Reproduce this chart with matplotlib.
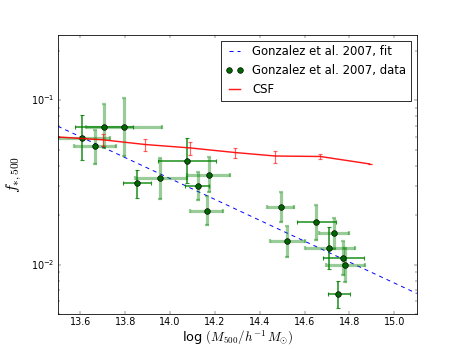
import matplotlib
matplotlib.use("Agg")
import matplotlib.pyplot as plt
import numpy as np

plt.style.use('classic')

# Gonzalez et al. 2007 fit line (endpoints)
fit_x = [13.5, 15.1]
fit_y = [0.0695, 0.00668]

# Gonzalez et al. 2007 data
g_x = [13.606, 13.704, 13.796, 13.665, 13.855, 13.954, 14.074, 14.175, 14.124,
       14.163, 14.493, 14.653, 14.523, 14.733, 14.711, 14.772, 14.782, 14.751]
g_y = [0.0593, 0.0692, 0.0692, 0.0525, 0.0312, 0.0336, 0.0430, 0.0353, 0.0303,
       0.0212, 0.0224, 0.0181, 0.0140, 0.0155, 0.0126, 0.0109, 0.00997, 0.00659]
g_xlo = [13.502, 13.578, 13.627, 13.570, 13.792, 13.844, 13.947, 14.074, 14.067,
         14.089, 14.434, 14.568, 14.444, 14.664, 14.600, 14.681, 14.696, 14.704]
g_xhi = [13.733, 13.836, 13.963, 13.760, 13.916, 14.074, 14.204, 14.268, 14.173,
         14.237, 14.552, 14.739, 14.601, 14.800, 14.827, 14.864, 14.868, 14.801]
g_ylo = [0.0432, 0.0511, 0.0458, 0.0412, 0.0256, 0.0251, 0.0313, 0.0275, 0.0249,
         0.0174, 0.0183, 0.0142, 0.0112, 0.0125, 0.0094, 0.0086, 0.00785, 0.00546]
g_yhi = [0.0814, 0.0946, 0.1038, 0.0664, 0.0374, 0.0446, 0.0590, 0.0452, 0.0365,
         0.0261, 0.0275, 0.0232, 0.0172, 0.0191, 0.0170, 0.0139, 0.0127, 0.0080]
# error-bar rendering: 1 = thin dark, 0 = thick pale
g_xdark = [0, 1, 0, 0, 1, 0, 1, 0, 1, 0, 0, 1, 0, 0, 0, 1, 0, 1]
g_ydark = [1, 0, 0, 0, 1, 0, 1, 0, 0, 0, 0, 0, 0, 0, 1, 0, 0, 1]

# CSF
csf_x = [13.50, 13.70, 13.89, 14.09, 14.29, 14.47, 14.67, 14.89]
csf_y = [0.0598, 0.0575, 0.0538, 0.0513, 0.0481, 0.0458, 0.0455, 0.0410]
csf_lo = [0.0598, 0.0528, 0.0490, 0.0463, 0.0447, 0.0418, 0.0438, 0.0410]
csf_hi = [0.0598, 0.0621, 0.0585, 0.0558, 0.0515, 0.0492, 0.0470, 0.0410]

xticks = [13.6, 13.8, 14.0, 14.2, 14.4, 14.6, 14.8, 15.0]

fig = plt.figure(figsize=(463 / 58.0, 349 / 58.0), dpi=58)
ax = fig.add_subplot(111)

ax.plot(fit_x, fit_y, 'b--', lw=1.2, dashes=(5, 5), label='Gonzalez et al. 2007, fit')

dark = dict(color='green', lw=2.0, alpha=0.85)
pale = dict(color='green', lw=4.0, alpha=0.4)
for i in range(len(g_x)):
    sx = dark if g_xdark[i] else pale
    sy = dark if g_ydark[i] else pale
    xe = [[g_x[i] - g_xlo[i]], [g_xhi[i] - g_x[i]]]
    ye = [[g_y[i] - g_ylo[i]], [g_yhi[i] - g_y[i]]]
    ax.errorbar([g_x[i]], [g_y[i]], xerr=xe, fmt='none', ecolor=sx['color'],
                elinewidth=sx['lw'], capsize=3, capthick=sx['lw'] * 0.7,
                alpha=sx['alpha'])
    ax.errorbar([g_x[i]], [g_y[i]], yerr=ye, fmt='none', ecolor=sy['color'],
                elinewidth=sy['lw'], capsize=3, capthick=sy['lw'] * 0.7,
                alpha=sy['alpha'])
ax.plot(g_x, g_y, 'o', color=(0, 0.4, 0), mec='k', mew=0.8, ms=7, ls='none',
        label='Gonzalez et al. 2007, data')

csf_err = [np.array(csf_y) - np.array(csf_lo), np.array(csf_hi) - np.array(csf_y)]
ax.errorbar(csf_x, csf_y, yerr=csf_err, fmt='none', ecolor='r', elinewidth=1.5,
            capsize=3, capthick=1.5, alpha=0.6)
ax.plot(csf_x, csf_y, 'r-', lw=1.8, alpha=0.9, label='CSF')

ax.set_yscale('log')
ax.set_xlim(13.5, 15.1)
ax.set_ylim(0.005, 0.25)
ax.set_xticks(xticks)
ax.set_xticklabels(['%.1f' % t for t in xticks])
ax.tick_params(labelsize=12)
ax.set_xlabel(r'log $(M_{500}/h^{-1}\,M_{\odot})$', fontsize=16)
ax.xaxis.set_label_coords(0.5, -0.05)
ax.set_ylabel(r'$f_{*,500}$', fontsize=20)
ax.yaxis.set_label_coords(-0.095, 0.5)

ax.legend(loc='upper right', fontsize=14.4, numpoints=2, handlelength=1.5,
          borderaxespad=0.5)

fig.subplots_adjust(left=0.125, right=0.9, bottom=0.1, top=0.9)
fig.savefig('out.png', dpi=58)
